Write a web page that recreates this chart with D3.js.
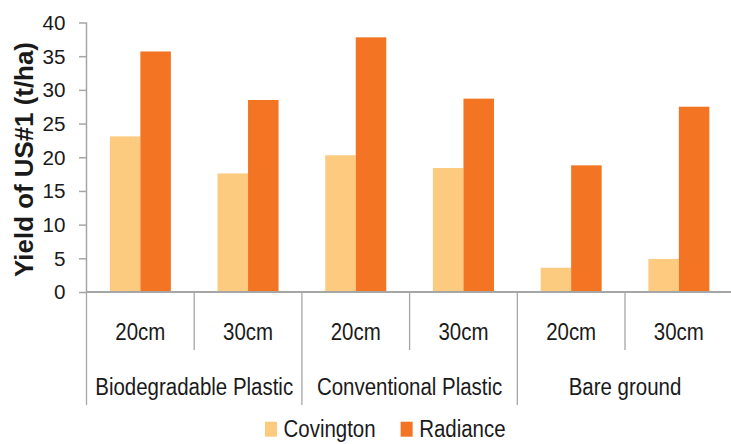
<!DOCTYPE html>
<html>
<head>
<meta charset="utf-8">
<script src="https://cdn.jsdelivr.net/npm/d3@7"></script>
<style>
  html, body { margin: 0; padding: 0; background: #fff; }
  svg { display: block; }
  text { font-family: "Liberation Sans", Arial, sans-serif; }
</style>
</head>
<body>
<svg id="chart" width="731" height="444"></svg>
<script>
// Yield of US#1 grade, by mulch treatment and in-row spacing
const groups = ["Biodegradable Plastic", "Conventional Plastic", "Bare ground"];
const spacings = ["20cm", "30cm"];
const series = ["Covington", "Radiance"];
const covington = [23.1, 17.6, 20.3, 18.4, 3.6, 4.9];
const radiance = [35.7, 28.5, 37.8, 28.7, 18.8, 27.5];
const yTicks = [0, 5, 10, 15, 20, 25, 30, 35, 40];
const colors = ["#FDCB80", "#F37423"];

const svg = d3.select("#chart");
const axisColor = "#A6A6A6";
const textColor = "#1a1a1a";

const plotLeft = 86.5, plotRight = 732.7, plotTop = 22.5, plotBottom = 292;
const labelSize = 24.5;

// width of a string at a given size/weight, used to condense the category font
function measure(str, size, weight) {
  const t = svg.append("text").style("font-size", size + "px").style("font-weight", weight || "normal").text(str);
  const w = t.node().getComputedTextLength();
  t.remove();
  return w;
}
// category and legend text is set in a condensed face
const narrow = 198 / measure("Biodegradable Plastic", labelSize);
const titleScale = 235 / measure("Yield of US#1 (t/ha)", 25, "bold");
const tickScale = 23 / measure("40", 19.5);

// one slot per group/spacing combination
const slots = [];
groups.forEach(g => spacings.forEach(s => slots.push({ group: g, spacing: s })));
const slotKey = d => d.group + "|" + d.spacing;

const x0 = d3.scaleBand().domain(slots.map(slotKey)).range([plotLeft, plotRight]).paddingInner(0).paddingOuter(0);
const x1 = d3.scaleBand().domain(series).range([0, x0.bandwidth()]).paddingInner(0).paddingOuter(0.765);
const y = d3.scaleLinear().domain([0, 40]).range([plotBottom, plotTop]);
const color = d3.scaleOrdinal().domain(series).range(colors);

const rows = slots.map((d, i) => ({ key: slotKey(d), values: [covington[i], radiance[i]] }));

// bars
const barLayer = svg.append("g");
rows.forEach(r => {
  barLayer.selectAll(null)
    .data(series.map((s, j) => ({ series: s, value: r.values[j] })))
    .enter().append("rect")
    .attr("x", d => x0(r.key) + x1(d.series))
    .attr("width", x1.bandwidth())
    .attr("y", d => y(d.value))
    .attr("height", d => y(0) - y(d.value))
    .attr("fill", d => color(d.series));
});

// value axis
const yAxis = svg.append("g")
  .attr("transform", `translate(${plotLeft},0)`)
  .call(d3.axisLeft(y).tickValues(yTicks).tickSize(7.5).tickPadding(0).tickFormat(d3.format("d")));
yAxis.select(".domain").attr("stroke", axisColor).attr("stroke-width", 1.5).attr("d", `M0,${plotTop}V${plotBottom}`);
yAxis.selectAll(".tick line").attr("stroke", axisColor).attr("stroke-width", 1.5);
yAxis.selectAll(".tick text")
  .attr("x", null).attr("dy", "0.35em")
  .attr("transform", `translate(-21,0) scale(${tickScale},1)`)
  .attr("fill", textColor)
  .style("font-family", "'Liberation Sans', Arial, sans-serif")
  .style("font-size", "19.5px");

// category baseline
svg.append("line")
  .attr("x1", plotLeft).attr("x2", plotRight)
  .attr("y1", y(0)).attr("y2", y(0))
  .attr("stroke", axisColor).attr("stroke-width", 2);

// separators below the baseline: short between spacings, long between groups
const bounds = d3.range(slots.length + 1);
svg.append("g").selectAll("line")
  .data(bounds)
  .enter().append("line")
  .attr("x1", i => plotLeft + i * x0.step())
  .attr("x2", i => plotLeft + i * x0.step())
  .attr("y1", y(0))
  .attr("y2", i => (i % spacings.length === 0) ? 405 : 350)
  .attr("stroke", axisColor).attr("stroke-width", 1.3);

// spacing labels
svg.append("g").selectAll("text")
  .data(slots)
  .enter().append("text")
  .attr("transform", d => `translate(${x0(slotKey(d)) + x0.bandwidth() / 2},339.5) scale(${narrow},1)`)
  .attr("text-anchor", "middle")
  .attr("fill", textColor)
  .style("font-size", labelSize + "px")
  .text(d => d.spacing);

// group labels
svg.append("g").selectAll("text")
  .data(groups)
  .enter().append("text")
  .attr("transform", gname => {
    const a = x0(gname + "|" + spacings[0]);
    const b = x0(gname + "|" + spacings[spacings.length - 1]) + x0.bandwidth();
    return `translate(${(a + b) / 2},395) scale(${narrow},1)`;
  })
  .attr("text-anchor", "middle")
  .attr("fill", textColor)
  .style("font-size", labelSize + "px")
  .text(d => d);

// value axis title
svg.append("text")
  .attr("transform", `translate(33,159.5) rotate(-90) scale(${titleScale},1)`)
  .attr("text-anchor", "middle")
  .attr("fill", textColor)
  .style("font-weight", "bold")
  .style("font-size", "25px")
  .text("Yield of US#1 (t/ha)");

// legend
const legend = svg.append("g").attr("transform", "translate(265,0)");
let lx = 0;
series.forEach(s => {
  const item = legend.append("g").attr("transform", `translate(${lx},0)`);
  item.append("rect").attr("x", 0).attr("y", 421.7).attr("width", 12).attr("height", 15).attr("fill", color(s));
  const t = item.append("text")
    .attr("transform", `translate(18.5,437.3) scale(${narrow},1)`)
    .attr("fill", textColor)
    .style("font-size", labelSize + "px")
    .text(s);
  lx += 18.5 + t.node().getComputedTextLength() * narrow + 25;
});
</script>
</body>
</html>
